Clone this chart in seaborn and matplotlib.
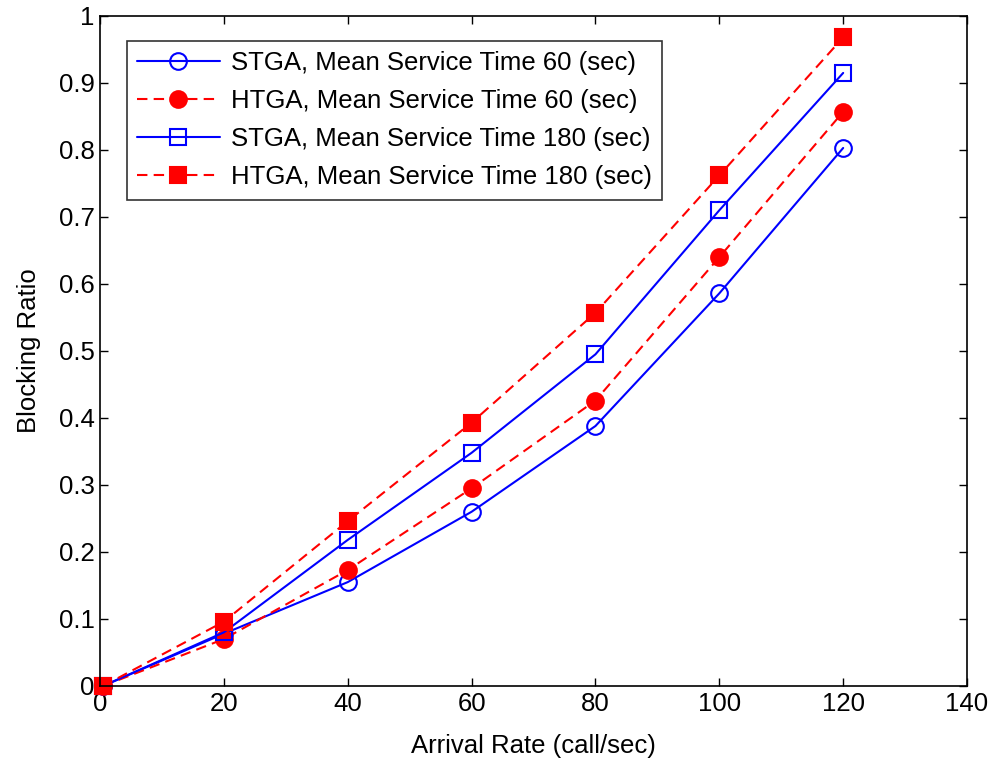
import matplotlib
matplotlib.use("Agg")
import matplotlib.pyplot as plt
import seaborn as sns
import pandas as pd

arrival_rate = [0.5, 20, 40, 60, 80, 100, 120]
stga_60 = [0.0, 0.078, 0.155, 0.260, 0.388, 0.586, 0.803]
htga_60 = [0.0, 0.070, 0.173, 0.295, 0.426, 0.640, 0.857]
stga_180 = [0.0, 0.080, 0.218, 0.348, 0.495, 0.710, 0.915]
htga_180 = [0.0, 0.096, 0.246, 0.393, 0.557, 0.762, 0.968]

labels = ["STGA, Mean Service Time 60 (sec)",
          "HTGA, Mean Service Time 60 (sec)",
          "STGA, Mean Service Time 180 (sec)",
          "HTGA, Mean Service Time 180 (sec)"]
series = [stga_60, htga_60, stga_180, htga_180]
xticks = [0, 20, 40, 60, 80, 100, 120, 140]
yticks = [0, 0.1, 0.2, 0.3, 0.4, 0.5, 0.6, 0.7, 0.8, 0.9, 1]
ytick_labels = ["0", "0.1", "0.2", "0.3", "0.4", "0.5", "0.6", "0.7", "0.8", "0.9", "1"]

sns.set_theme(style="ticks")
plt.rcParams['font.family'] = ['Liberation Sans', 'DejaVu Sans']
plt.rcParams['text.color'] = 'black'
plt.rcParams['axes.labelcolor'] = 'black'

fig = plt.figure(figsize=(9.95, 7.61), dpi=100)
ax = fig.add_axes([0.1005, 0.0986, 0.8714, 0.8804])

styles = [
    dict(color="#0000ff", linestyle="-", marker="o", markerfacecolor="none", markeredgecolor="#0000ff"),
    dict(color="#ff0000", linestyle=(0, (5, 3)), marker="o", markerfacecolor="#ff0000", markeredgecolor="#ff0000"),
    dict(color="#0000ff", linestyle="-", marker="s", markerfacecolor="none", markeredgecolor="#0000ff"),
    dict(color="#ff0000", linestyle=(0, (5, 3)), marker="s", markerfacecolor="#ff0000", markeredgecolor="#ff0000"),
]

for lab, vals, st in zip(labels, series, styles):
    df = pd.DataFrame({"x": arrival_rate, "y": vals})
    sns.lineplot(data=df, x="x", y="y", ax=ax, label=lab, linewidth=1.5,
                 markersize=12, markeredgewidth=1.5, clip_on=False, **st)

ax.set_xlim(0, 140)
ax.set_ylim(0, 1)
ax.set_xticks(xticks)
ax.set_yticks(yticks)
ax.set_yticklabels(ytick_labels)
ax.tick_params(direction="in", length=6, width=1, top=True, right=True,
               labelsize=18.5, colors="black", pad=4)
for sp in ax.spines.values():
    sp.set_visible(True)
    sp.set_color("black")
    sp.set_linewidth(1.2)

ax.set_xlabel("Arrival Rate (call/sec)", fontsize=18.5, labelpad=13, color="black")
ax.set_ylabel("Blocking Ratio", fontsize=18.5, labelpad=13, color="black")

leg = ax.legend(loc="upper left", bbox_to_anchor=(0.0312, 0.963), borderaxespad=0,
                fontsize=18.5, frameon=True, fancybox=False, edgecolor="black",
                handlelength=3.2, labelspacing=0.55, borderpad=0.4, handletextpad=0.45)
leg.get_frame().set_linewidth(1.2)
for t in leg.get_texts():
    t.set_color("black")

fig.savefig("out.png", dpi=100)
